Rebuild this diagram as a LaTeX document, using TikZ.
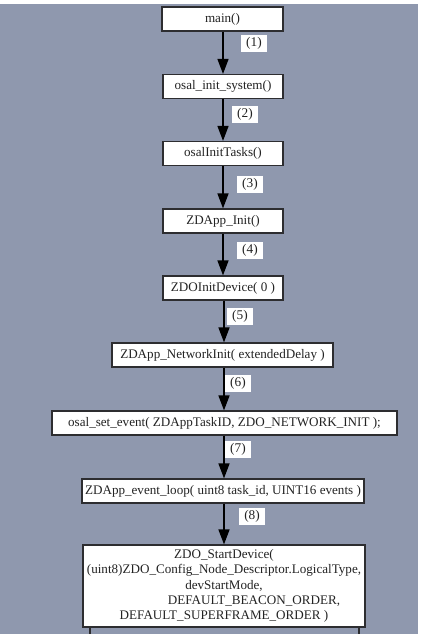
\documentclass[tikz,border=0pt]{standalone}
\usepackage{fontspec}
\setmainfont{Liberation Serif}
\usetikzlibrary{arrows.meta}

\definecolor{bgblue}{RGB}{143,152,174}
\definecolor{boxline}{RGB}{45,45,48}
\definecolor{txtgray}{RGB}{35,35,35}

\tikzset{
  fbox/.style={draw=boxline,fill=white,line width=1.2pt,inner sep=0pt,
    minimum height=24pt,text=txtgray,font=\fontsize{13.1}{15.2}\selectfont},
  numlab/.style={fill=white,inner sep=0pt,minimum width=26pt,minimum height=17pt,
    text=txtgray,font=\fontsize{13.3}{15}\selectfont},
  call/.style={->,line width=1.5pt,black}
}

\begin{document}
\begin{tikzpicture}[x=1pt,y=-1pt,>={Triangle[length=15pt,width=11pt]}]
  \useasboundingbox (0,0) rectangle (423,634);
  \fill[bgblue] (0,4) rectangle (418,634);
  % call chain
  \node[fbox,minimum width=121pt] (main) at (222.5,19) {main()};
  \node[fbox,minimum width=120pt] (initsys) at (223,86.5) {osal\_init\_system()};
  \node[fbox,minimum width=120pt] (inittasks) at (223,153.5) {osalInitTasks()};
  \node[fbox,minimum width=120pt] (zdinit) at (223,221) {ZDApp\_Init()};
  \node[fbox,minimum width=120pt] (initdev) at (223,288) {ZDOInitDevice( 0 )};
  \node[fbox,minimum width=221pt] (netinit) at (222.5,355) {ZDApp\_NetworkInit( extendedDelay )};
  \node[fbox,minimum width=345pt] (setevent) at (224.5,423) {osal\_set\_event( ZDAppTaskID, ZDO\_NETWORK\_INIT );};
  \node[fbox,minimum width=282pt] (evloop) at (223,491) {ZDApp\_event\_loop( uint8 task\_id, UINT16 events )};
  \node[fbox,minimum width=282pt,minimum height=82pt,align=center] (startdev) at (224,586)
    {ZDO\_StartDevice(\\
     (uint8)ZDO\_Config\_Node\_Descriptor.LogicalType,\\
     devStartMode,\\
     \hspace*{60pt}DEFAULT\_BEACON\_ORDER,\\
     DEFAULT\_SUPERFRAME\_ORDER )};
  \draw[call] (main.south -| 223,0) -- (initsys.north -| 223,0);
  \draw[call] (initsys) -- (inittasks);
  \draw[call] (inittasks) -- (zdinit);
  \draw[call] (zdinit) -- (initdev);
  \draw[call] (initdev.south -| 224,0) -- (netinit.north -| 224,0);
  \draw[call] (netinit.south -| 224,0) -- (setevent.north -| 224,0);
  \draw[call] (setevent.south -| 224,0) -- (evloop.north -| 224,0);
  \draw[call] (evloop.south -| 224,0) -- (startdev.north -| 224,0);
  % step numbers
  \node[numlab] (n1) at (254,43.5) {(1)};
  \node[numlab] (n2) at (245,114) {(2)};
  \node[numlab] (n3) at (250,184) {(3)};
  \node[numlab] (n4) at (250,250) {(4)};
  \node[numlab] (n5) at (240,316) {(5)};
  \node[numlab] (n6) at (238,383.5) {(6)};
  \node[numlab] (n7) at (238,449.5) {(7)};
  \node[numlab] (n8) at (252,516) {(8)};
  % cut-off box below
  \draw[boxline,line width=1.2pt] (90,628) -- (90,634);
  \draw[boxline,line width=1.2pt] (359,628) -- (359,634);
\end{tikzpicture}
\end{document}
